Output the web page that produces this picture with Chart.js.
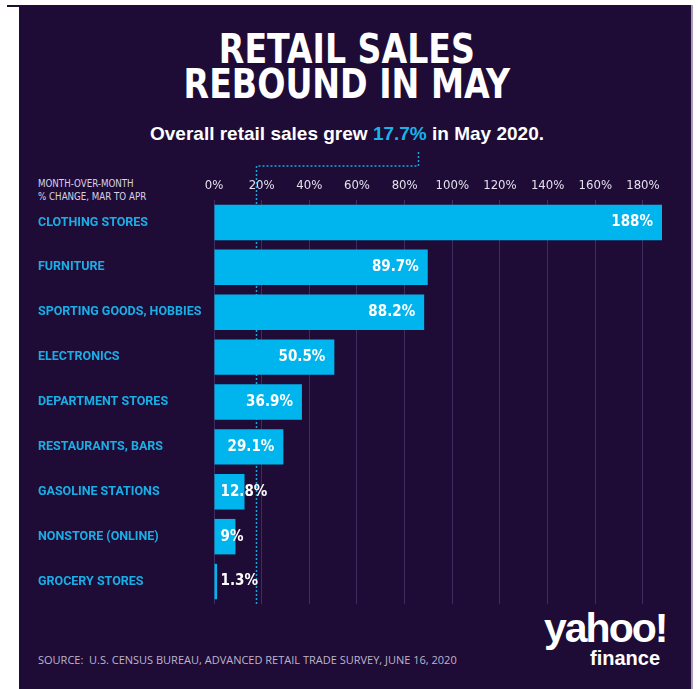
<!DOCTYPE html>
<html>
<head>
<meta charset="utf-8">
<script src="https://cdn.jsdelivr.net/npm/chart.js@4.4.1/dist/chart.umd.min.js"></script>
<style>
  html, body { margin: 0; padding: 0; background: #fff; }
  #wrap { position: relative; width: 698px; height: 689px; overflow: hidden; }
  #panel { position: absolute; left: 19px; top: 5px; width: 672px; height: 684px;
           background: #1e0c37; border-right: 2px solid #a79cc0; }
  #nick { position: absolute; left: 7px; top: 5px; width: 12px; height: 2px; background: #1e0c37; }
  .txt { position: absolute; color: #fff; white-space: nowrap; }
  #title { left: 19px; width: 652px; top: 32px; text-align: center;
           font: bold 41px/35px 'DejaVu Sans Condensed', sans-serif; transform: scaleX(0.9); transform-origin: 345px 0; }
  #sub { left: 19px; width: 656px; top: 123px; text-align: center;
         font: bold 19px 'Liberation Sans', Arial, sans-serif; }
  #sub span { color: #19b4ea; }
  #note { left: 38px; top: 177px; color: #d8d2e3;
          font: 10.5px/13px 'DejaVu Sans Condensed', sans-serif; transform: scaleX(0.92); transform-origin: 0 0; }
  #source { left: 38px; top: 652px; color: #bdb5cc; font: 11px 'Open Sans', sans-serif; }
  #yahoo { left: 544px; top: 608px; font: 900 41px/40px 'Liberation Sans', Arial, sans-serif; letter-spacing: -2px; }
  #finance { left: 590px; top: 648px; font: bold 20px/20px 'Liberation Sans', Arial, sans-serif; }
  canvas { position: absolute; left: 0; top: 0; }
</style>
</head>
<body>
<div id="wrap">
  <div id="nick"></div>
  <div id="panel"></div>
  <div class="txt" id="title">RETAIL SALES<br>REBOUND IN MAY</div>
  <div class="txt" id="sub">Overall retail sales grew <span>17.7%</span> in May 2020.</div>
  <div class="txt" id="note">MONTH-OVER-MONTH<br>% CHANGE, MAR TO APR</div>
  <div class="txt" id="source">SOURCE:&nbsp; U.S. CENSUS BUREAU, ADVANCED RETAIL TRADE SURVEY, JUNE 16, 2020</div>
  <div class="txt" id="yahoo">yahoo!</div>
  <div class="txt" id="finance">finance</div>
  <canvas id="chart" width="698" height="689"></canvas>
</div>
<script>
const categories = ['CLOTHING STORES', 'FURNITURE', 'SPORTING GOODS, HOBBIES', 'ELECTRONICS',
  'DEPARTMENT STORES', 'RESTAURANTS, BARS', 'GASOLINE STATIONS', 'NONSTORE (ONLINE)', 'GROCERY STORES'];
const changes = [188, 89.7, 88.2, 50.5, 36.9, 29.1, 12.8, 9, 1.3];
const valueLabels = ['188%', '89.7%', '88.2%', '50.5%', '36.9%', '29.1%', '12.8%', '9%', '1.3%'];
const overall = 17.7;
const xTicks = [0, 20, 40, 60, 80, 100, 120, 140, 160, 180];

const narrow = "'DejaVu Sans Condensed', sans-serif";

// value labels: inside bar end, or just right of the axis when the bar is too short
const valuePlugin = {
  id: 'values',
  afterDatasetsDraw(chart) {
    const ctx = chart.ctx;
    const meta = chart.getDatasetMeta(0);
    ctx.save();
    ctx.font = 'bold 15px ' + narrow;
    ctx.fillStyle = '#ffffff';
    ctx.textBaseline = 'middle';
    meta.data.forEach(function (bar, i) {
      const t = valueLabels[i];
      const w = ctx.measureText(t).width;
      if (bar.x - bar.base > w + 16) {
        ctx.textAlign = 'right';
        ctx.fillText(t, bar.x - 9, bar.y);
      } else {
        ctx.textAlign = 'left';
        ctx.fillText(t, bar.base + 6, bar.y);
      }
    });
    ctx.restore();
  }
};

// dotted marker for overall growth, linked up to the subtitle
const overallPlugin = {
  id: 'overall',
  beforeDatasetsDraw(chart) {
    const ctx = chart.ctx;
    const x = Math.round(chart.scales.x.getPixelForValue(overall)) + 0.5;
    ctx.save();
    ctx.strokeStyle = '#1aa6dc';
    ctx.lineWidth = 1.5;
    ctx.setLineDash([2, 2]);
    ctx.beginPath();
    ctx.moveTo(418.5, 152);
    ctx.lineTo(418.5, 166);
    ctx.lineTo(x, 166);
    ctx.lineTo(x, chart.chartArea.bottom);
    ctx.stroke();
    ctx.restore();
  }
};

new Chart(document.getElementById('chart'), {
  type: 'bar',
  data: {
    labels: categories,
    datasets: [{
      data: changes,
      backgroundColor: '#00b5ee',
      borderWidth: 0,
      categoryPercentage: 1,
      barPercentage: 0.79
    }]
  },
  options: {
    indexAxis: 'y',
    responsive: false,
    animation: false,
    layout: { padding: { left: 38, top: 170, right: 36, bottom: 85 } },
    plugins: { legend: { display: false }, tooltip: { enabled: false } },
    scales: {
      x: {
        position: 'top',
        min: 0,
        max: 188,
        afterFit: function (s) { s.height = 30; },
        afterBuildTicks: function (s) { s.ticks = xTicks.map(function (v) { return { value: v }; }); },
        grid: { color: '#3e2d5f', lineWidth: 1, drawTicks: false },
        border: { display: false },
        ticks: {
          color: '#e4e0ec',
          padding: 7,
          font: { family: narrow, size: 13 },
          callback: function (v) { return v + '%'; }
        }
      },
      y: {
        afterFit: function (s) { s.width = 176; },
        grid: { display: false },
        border: { display: false },
        ticks: {
          crossAlign: 'far',
          color: '#1aaee6',
          font: { family: 'Roboto, sans-serif', size: 12.5, weight: 'bold' }
        }
      }
    }
  },
  plugins: [valuePlugin, overallPlugin]
});
</script>
</body>
</html>
